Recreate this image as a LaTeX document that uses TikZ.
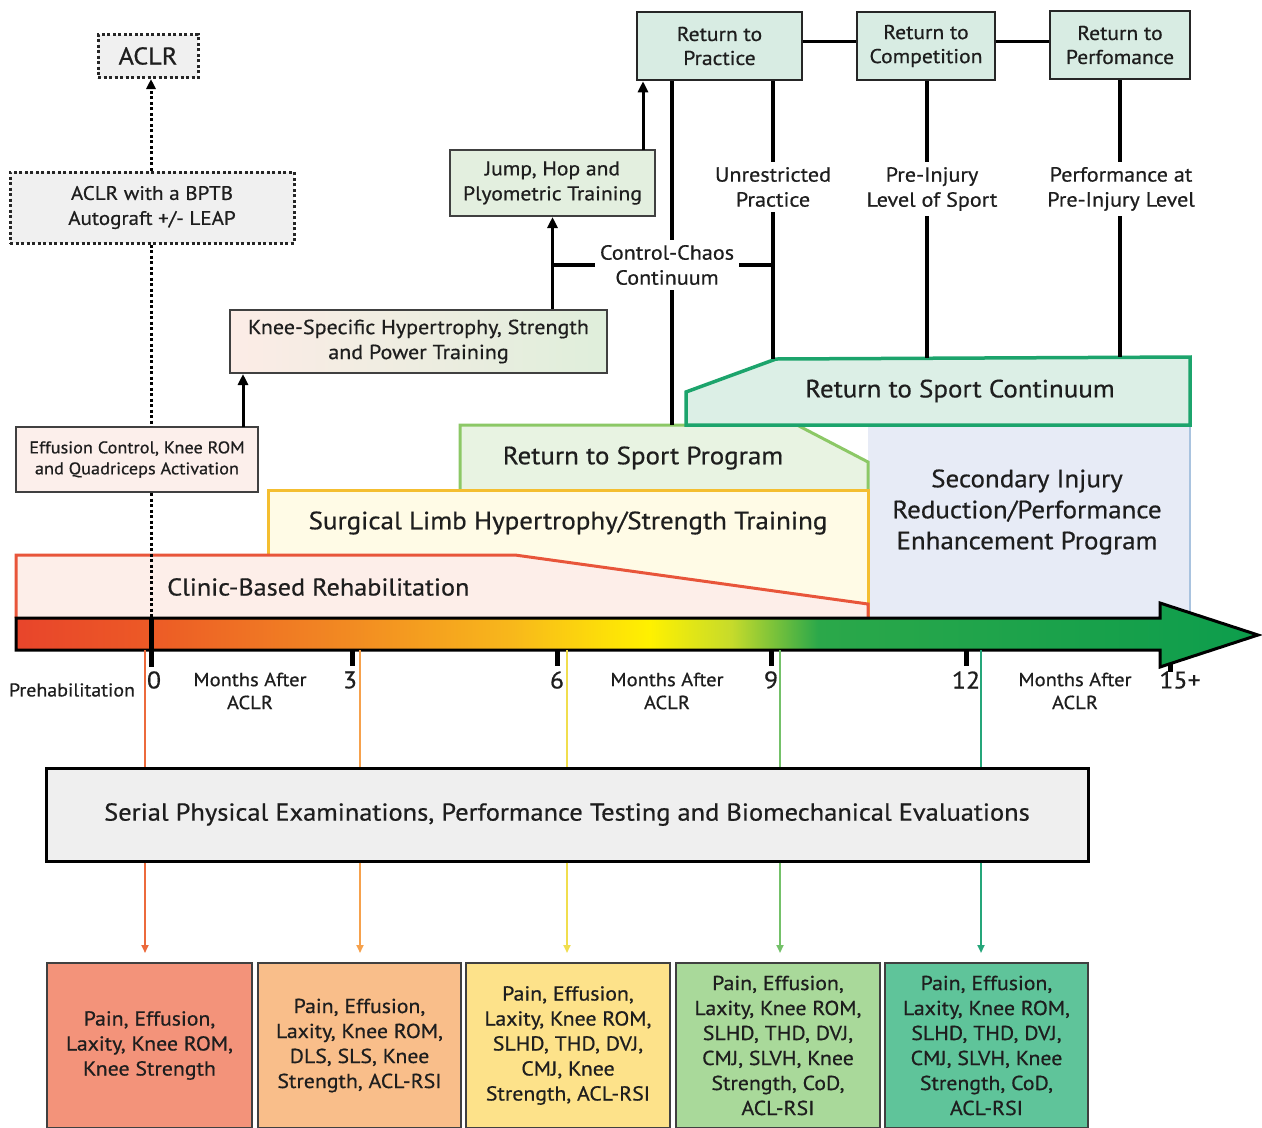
\documentclass[tikz,border=0pt]{standalone}
\usepackage{fontspec}
\setmainfont{PT Sans}[FakeBold=0.6, FakeStretch=1.08]
\usetikzlibrary{arrows.meta,calc}
\definecolor{tl0}{HTML}{E8452B}
\definecolor{tl1}{HTML}{EC5826}
\definecolor{tl2}{HTML}{F28B22}
\definecolor{tl3}{HTML}{F8B81B}
\definecolor{tl4}{HTML}{FFF100}
\definecolor{tl5}{HTML}{C6DB2B}
\definecolor{tl6}{HTML}{2BA84A}
\definecolor{tl7}{HTML}{0D9D4C}
\pgfdeclarehorizontalshading{timeline}{100bp}{color(0bp)=(tl0); color(25bp)=(tl0); color(30bp)=(tl1); color(38.5bp)=(tl2); color(45bp)=(tl3); color(50.5bp)=(tl4); color(53.8bp)=(tl5); color(57.3bp)=(tl6); color(75bp)=(tl7); color(100bp)=(tl7)}
\definecolor{rtfill}{HTML}{D8ECE3}
\definecolor{jumpfill}{HTML}{E3EFDF}
\definecolor{kneeL}{HTML}{FCECE6}
\definecolor{kneeR}{HTML}{DFEEDB}
\definecolor{efffill}{HTML}{FCEFEB}
\definecolor{secfill}{HTML}{E7EBF6}
\definecolor{secborder}{HTML}{A9C3DF}
\definecolor{rspfill}{HTML}{E8F3E2}
\definecolor{rspborder}{HTML}{8CC866}
\definecolor{slfill}{HTML}{FFFBE6}
\definecolor{slborder}{HTML}{F4BE30}
\definecolor{clfill}{HTML}{FDEEE9}
\definecolor{clborder}{HTML}{E8553A}
\definecolor{rscfill}{HTML}{DCEFE6}
\definecolor{rscborder}{HTML}{1CA46C}
\definecolor{serialfill}{HTML}{EFEFEF}
\definecolor{v1}{HTML}{EC6A3C}
\definecolor{v2}{HTML}{F6A14C}
\definecolor{v3}{HTML}{F1DE4E}
\definecolor{v4}{HTML}{74C169}
\definecolor{v5}{HTML}{25A67A}
\definecolor{b1}{HTML}{F3937A}
\definecolor{b2}{HTML}{F9BE8A}
\definecolor{b3}{HTML}{FDE28A}
\definecolor{b4}{HTML}{A9D99A}
\definecolor{b5}{HTML}{5FC49A}
\definecolor{ink}{HTML}{1E1E1E}
\newcommand\fsz[2]{\fontsize{#1}{#2}\selectfont}
\begin{document}
\begin{tikzpicture}[x=1pt,y=-1pt, every node/.style={text=ink},
  topbox/.style={draw=black!85, line width=2.5pt, fill=rtfill, align=center, inner sep=0pt, font=\fsz{20}{24}},
  dotbox/.style={draw=black!85, line width=3pt, dash pattern=on 3pt off 2.5pt, fill=gray!12, align=center, inner sep=0pt},
  plainbox/.style={draw=black!75, line width=2pt, align=center, inner sep=0pt},
  lbl/.style={align=center, inner sep=5pt, font=\fsz{20.5}{25}},
  conn/.style={line width=3.5pt, black},
  upar/.style={line width=3pt, -{Triangle[length=11pt,width=10pt]}},
  dots/.style={line width=3pt, dash pattern=on 3pt off 2.5pt},
  vline/.style={line width=2.5pt},
  varr/.style={line width=2.5pt, -{Triangle[length=8pt,width=7pt]}, shorten >=9pt},
  btbox/.style={draw=black!75, line width=2pt, align=center, inner sep=0pt, minimum height=165, font=\fsz{20.2}{25}},
  tick/.style={line width=5pt},
  num/.style={font=\fsz{24}{28}, inner sep=0pt},
  months/.style={font=\fsz{19}{23}, align=center, inner sep=0pt}
]
\useasboundingbox (0,0) rectangle (1262,1128);
\fill[white] (0,0) rectangle (1262,1128);

% ---------- background phase shapes ----------
\fill[secfill] (868,425) rectangle (1190,618);
\draw[secborder, line width=2pt] (1190,425) -- (1190,618);
\node[font=\fsz{25}{31}, align=center] (sec) at (1027,512) {Secondary Injury\\Reduction/Performance\\Enhancement Program};

\draw[fill=rspfill, draw=rspborder, line width=3pt] (460,490) -- (460,425) -- (797,425) -- (868,462) -- (868,490);
\node[font=\fsz{25}{28}] (rsp) at (643,458) {Return to Sport Program};

\draw[fill=slfill, draw=slborder, line width=3pt] (868,618) -- (868,490) -- (268,490) -- (268,618);
\node[font=\fsz{25}{28}] (slh) at (568,523) {Surgical Limb Hypertrophy/Strength Training};

\draw[fill=clfill, draw=clborder, line width=3pt] (16,618) -- (16,555) -- (515,555) -- (868,604) -- (868,618);
\node[font=\fsz{24.3}{28}, anchor=west, inner sep=0pt] (clin) at (167,587) {Clinic-Based Rehabilitation};

\draw[fill=rscfill, draw=rscborder, line width=3.5pt] (686,425) -- (686,392) -- (776,359) -- (1190,357) -- (1190,425) -- cycle;
\node[font=\fsz{25}{28}] (rsc) at (960,391) {Return to Sport Continuum};

% ---------- top boxes ----------
\node[topbox, minimum width=165, minimum height=68] (rtp) at (719.5,46) {Return to\\Practice};
\node[topbox, minimum width=138, minimum height=68] (rtc) at (926,46) {Return to\\Competition};
\node[topbox, minimum width=140, minimum height=68] (rtf) at (1120,45) {Return to\\Perfomance};
\draw[conn, line width=3pt] ($(rtp.east)+(0,-5)$) -- ($(rtc.west)+(0,-5)$);
\draw[conn, line width=3pt] ($(rtc.east)+(0,-5)$) -- ($(rtf.west)+(0,-4)$);

\node[dotbox, minimum width=100, minimum height=43, font=\fsz{24.3}{28}] (aclr) at (148,56) {ACLR};
\node[dotbox, minimum width=284, minimum height=71, font=\fsz{19.5}{25}] (bptb) at (152,207.5) {ACLR with a BPTB\\Autograft +/- LEAP};
\node[plainbox, fill=efffill, minimum width=242, minimum height=65, font=\fsz{16.9}{21}] (eff) at (137,459.5) {Effusion Control, Knee ROM\\and Quadriceps Activation};
\node[plainbox, left color=kneeL, right color=kneeR, minimum width=377, minimum height=63, font=\fsz{20.4}{25}] (knee) at (418.5,341.5) {Knee-Specific Hypertrophy, Strength\\and Power Training};
\node[plainbox, fill=jumpfill, minimum width=205, minimum height=66, font=\fsz{20}{25}] (jump) at (552.5,183) {Jump, Hop and\\Plyometric Training};

% ---------- connectors ----------
\coordinate (t0top) at (151,618);
\coordinate (t0bot) at (151,667);
\draw[dots, -{Triangle[length=10pt,width=9pt]}] (bptb.north -| t0top) -- (t0top |- aclr.south);
\draw[dots] (bptb.south -| t0top) -- (t0top |- eff.north);
\draw[dots] (eff.south -| t0top) -- (t0top);

\coordinate (effup) at (243,427);
\draw[upar] (effup) -- (effup |- knee.south);
\draw[upar] (knee.north -| jump.south) -- (jump.south);
\coordinate (jumpup) at (643,150);
\draw[upar] (jumpup) -- (jumpup |- rtp.south);

\coordinate (ccl) at (672,425);
\coordinate (unrl) at (773,359);
\coordinate (prel) at (927,358);
\coordinate (perl) at (1120,357);
\draw[conn] (rtp.south -| ccl) -- (ccl);
\draw[conn] (rtp.south -| unrl) -- (unrl);
\draw[conn] (rtc.south -| prel) -- (prel);
\draw[conn] (rtf.south -| perl) -- (perl);

\node[lbl, fill=white] (unr) at (773,187) {Unrestricted\\Practice};
\node[lbl, fill=white] (pre) at (932,189) {Pre-Injury\\Level of Sport};
\node[lbl, fill=white] (perf) at (1121,189) {Performance at\\Pre-Injury Level};
\node[lbl, fill=white, inner sep=5pt] (cc) at (667,265) {Control-Chaos\\Continuum};
\draw[conn] (cc.west) -- (cc.west -| jump.south);
\draw[conn] (cc.east) -- (cc.east -| unrl);

% ---------- timeline ----------
\draw[tick] (1170,650) -- (1170,672);
\draw[shading=timeline, draw=black, line width=3pt, line join=miter]
  (16,618) -- (1160,618) -- (1160,603) -- (1258,635) -- (1160,667) -- (1160,650) -- (16,650) -- cycle;
\draw[tick] (t0top) -- (t0bot);
\coordinate (t3) at (352,650);
\coordinate (t6) at (557,650);
\coordinate (t9) at (771,650);
\coordinate (t12) at (966,650);
\foreach \c in {t3,t6,t9,t12} \draw[tick] (\c) -- ++(0,16);
\node[num] (n0) at (154,680) {0};
\node[num] (n3) at (350,680) {3};
\node[num] (n6) at (557,680) {6};
\node[num] (n9) at (771,680) {9};
\node[num] (n12) at (966,680) {12};
\node[num] (n15) at (1180,680) {15+};
\node[font=\fsz{18.5}{22}, inner sep=0pt] (preh) at (72,690) {Prehabilitation};
\node[months] (m1) at (250,691) {Months After\\ACLR};
\node[months] (m2) at (667,691) {Months After\\ACLR};
\node[months] (m3) at (1075,691) {Months After\\ACLR};

% ---------- evaluations ----------
\node[draw=black, line width=3pt, fill=serialfill, minimum width=1042, minimum height=93, inner sep=0pt, font=\fsz{24.5}{28}] (serial) at (567,814.5) {Serial Physical Examinations, Performance Testing and Biomechanical Evaluations};

\node[btbox, fill=b1, minimum width=205] (bx1) at (149.5,1045.5) {Pain, Effusion,\\Laxity, Knee ROM,\\Knee Strength};
\node[btbox, fill=b2, minimum width=203] (bx2) at (359.5,1045.5) {Pain, Effusion,\\Laxity, Knee ROM,\\DLS, SLS, Knee\\Strength, ACL-RSI};
\node[btbox, fill=b3, minimum width=204] (bx3) at (568,1045.5) {Pain, Effusion,\\Laxity, Knee ROM,\\SLHD, THD, DVJ,\\CMJ, Knee\\Strength, ACL-RSI};
\node[btbox, fill=b4, minimum width=204] (bx4) at (778,1045.5) {Pain, Effusion,\\Laxity, Knee ROM,\\SLHD, THD, DVJ,\\CMJ, SLVH, Knee\\Strength, CoD,\\ACL-RSI};
\node[btbox, fill=b5, minimum width=203] (bx5) at (986.5,1045.5) {Pain, Effusion,\\Laxity, Knee ROM,\\SLHD, THD, DVJ,\\CMJ, SLVH, Knee\\Strength, CoD,\\ACL-RSI};

\coordinate (c1) at (145,650);
\coordinate (c2) at (360,650);
\coordinate (c3) at (567,650);
\coordinate (c4) at (780,650);
\coordinate (c5) at (981,650);
\draw[vline, v1] (c1) -- (c1 |- serial.north);
\draw[vline, v2] (c2) -- (c2 |- serial.north);
\draw[vline, v3] (c3) -- (c3 |- serial.north);
\draw[vline, v4] (c4) -- (c4 |- serial.north);
\draw[vline, v5] (c5) -- (c5 |- serial.north);
\draw[varr, v1] (c1 |- serial.south) -- (c1 |- bx1.north);
\draw[varr, v2] (c2 |- serial.south) -- (c2 |- bx2.north);
\draw[varr, v3] (c3 |- serial.south) -- (c3 |- bx3.north);
\draw[varr, v4] (c4 |- serial.south) -- (c4 |- bx4.north);
\draw[varr, v5] (c5 |- serial.south) -- (c5 |- bx5.north);
\end{tikzpicture}
\end{document}
